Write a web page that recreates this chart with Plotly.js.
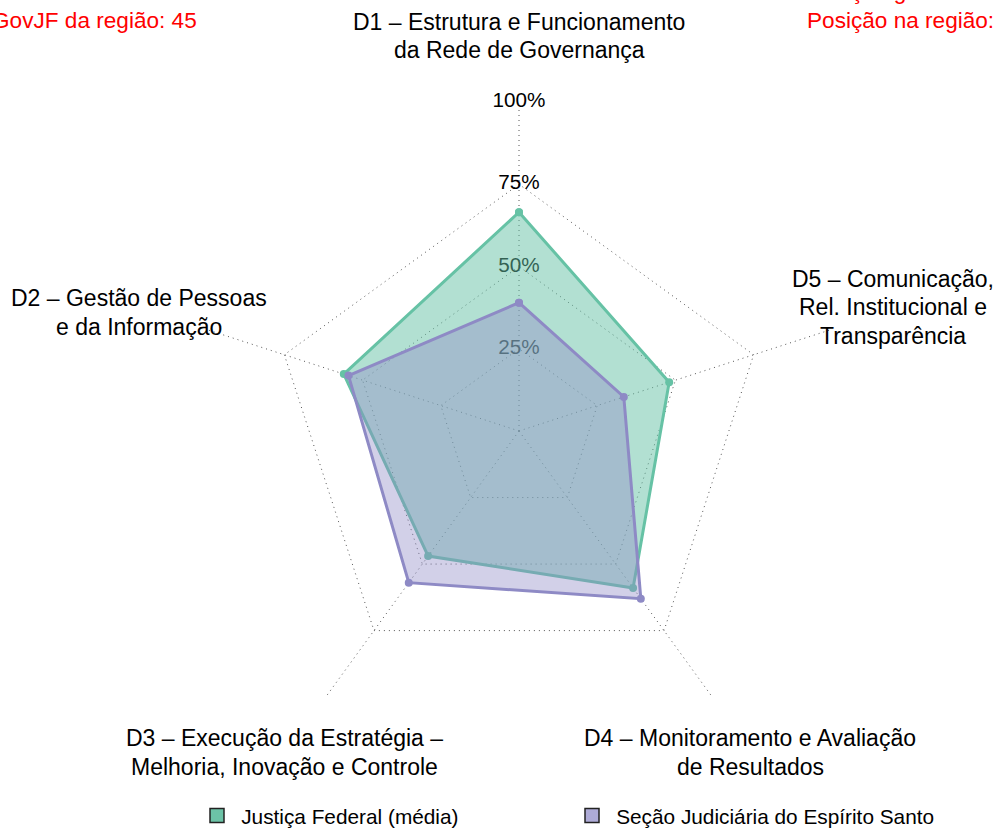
<!DOCTYPE html>
<html>
<head>
<meta charset="utf-8">
<script src="https://cdn.plot.ly/plotly-3.0.1.min.js"></script>
<style>html,body{margin:0;padding:0;background:#fff;overflow:hidden;}#chart{width:997px;height:829px;}</style>
</head>
<body>
<div id="chart"></div>
<script>
// ---- data ----
const dims = ["D1", "D2", "D3", "D4", "D5"];
const seriesNames = ["Justiça Federal (média)", "Seção Judiciária do Espírito Santo"];
const jfMedia = [66.5, 56, 47, 59, 48];
const sjes = [39, 54.5, 57, 63, 33.5];
const radialTickVals = [0, 25, 50, 75, 100];
const radialTickText = ["0", "25%", "50%", "75%", "100%"];
const dimLabelLines = [
  ["D1 – Estrutura e Funcionamento", "da Rede de Governança"],
  ["D2 – Gestão de Pessoas", "e da Informação"],
  ["D3 – Execução da Estratégia –", "Melhoria, Inovação e Controle"],
  ["D4 – Monitoramento e Avaliação", "de Resultados"],
  ["D5 – Comunicação,", "Rel. Institucional e", "Transparência"]
];
const leftInfo = "iGovJF da região: 45";
const rightInfo = ["Posição geral:", "Posição na região:"];

// ---- layout helpers ----
const W = 997, H = 829;
const FONT = "Liberation Sans, Arial, sans-serif";
const px = x => x / W;
const py = y => 1 - y / H;

const green = "#66C2A5";
const purple = "#8E8AC5";

// label anchor positions (pixels, first line centre) and line spacing
const labelPos = [[519, 22], [139, 298], [284, 738], [750, 738], [893, 279]];
const lineGap = 28.5;

const annotations = [];
dimLabelLines.forEach((lines, i) => {
  lines.forEach((t, j) => {
    annotations.push({
      text: t, xref: "paper", yref: "paper",
      x: px(labelPos[i][0]), y: py(labelPos[i][1] + j * lineGap),
      xanchor: "center", yanchor: "middle", showarrow: false,
      font: {family: FONT, size: 23, color: "#000"}
    });
  });
});
annotations.push({
  text: leftInfo, xref: "paper", yref: "paper", x: px(199), y: py(20),
  xanchor: "right", yanchor: "middle", showarrow: false,
  font: {family: FONT, size: 22.6, color: "#FF0000"}
});
rightInfo.forEach((t, j) => {
  annotations.push({
    text: t, xref: "paper", yref: "paper", x: px(805), y: py(20 - (rightInfo.length - 1 - j) * 28),
    xanchor: "left", yanchor: "middle", showarrow: false,
    font: {family: FONT, size: 22.6, color: "#FF0000"}
  });
});

const traces = [
  { // radial tick labels (drawn under fills)
    type: "scatterpolar", mode: "text",
    r: radialTickVals, theta: radialTickVals.map(() => dims[0]),
    text: radialTickText, textposition: "middle center",
    textfont: {family: FONT, size: 20.7, color: "#000"},
    showlegend: false, hoverinfo: "skip"
  },
  {
    type: "scatterpolar", mode: "lines+markers", name: seriesNames[0],
    r: jfMedia.concat([jfMedia[0]]), theta: dims.concat([dims[0]]),
    fill: "toself", fillcolor: "rgba(102,194,165,0.5)",
    line: {color: green, width: 3}, marker: {color: green, size: 8},
    showlegend: false, hoverinfo: "skip"
  },
  {
    type: "scatterpolar", mode: "lines+markers", name: seriesNames[1],
    r: sjes.concat([sjes[0]]), theta: dims.concat([dims[0]]),
    fill: "toself", fillcolor: "rgba(142,138,197,0.4)",
    line: {color: purple, width: 3}, marker: {color: purple, size: 8},
    showlegend: false, hoverinfo: "skip"
  },
  { // legend entries
    type: "scatterpolar", mode: "markers", name: "\u2009" + seriesNames[0],
    r: [null], theta: [null],
    marker: {symbol: "square", size: 14, color: "#6CC3A7", line: {color: "#222", width: 1.5}},
    showlegend: true, hoverinfo: "skip"
  },
  {
    type: "scatterpolar", mode: "markers", name: "\u2009" + seriesNames[1],
    r: [null], theta: [null],
    marker: {symbol: "square", size: 14, color: "#AEABD7", line: {color: "#222", width: 1.5}},
    showlegend: true, hoverinfo: "skip"
  }
];

const layout = {
  width: W, height: H,
  margin: {l: 0, r: 0, t: 0, b: 0, autoexpand: false},
  paper_bgcolor: "#fff", plot_bgcolor: "#fff",
  font: {family: FONT, color: "#000"},
  showlegend: true,
  legend: {
    orientation: "h", x: px(197), xanchor: "left", y: py(816), yanchor: "middle",
    entrywidth: 330, entrywidthmode: "pixels",
    font: {family: FONT, size: 20.8, color: "#000"}, bgcolor: "rgba(0,0,0,0)"
  },
  polar: {
    domain: {x: [px(190), px(848)], y: [py(760), py(102)]},
    gridshape: "linear",
    bgcolor: "rgba(0,0,0,0)",
    radialaxis: {
      range: [0, 100.01], tickvals: [25, 50, 75, 100], showticklabels: false,
      ticks: "", showline: false, gridcolor: "#555", griddash: "1px,4px", gridwidth: 1,
      angle: 90
    },
    angularaxis: {
      type: "category", categoryarray: dims, direction: "counterclockwise", rotation: 90,
      showticklabels: false, ticks: "", showline: false,
      gridcolor: "#555", griddash: "1px,4px", gridwidth: 1
    }
  },
  annotations: annotations
};

Plotly.newPlot("chart", traces, layout, {displayModeBar: false, staticPlot: true});
</script>
</body>
</html>
